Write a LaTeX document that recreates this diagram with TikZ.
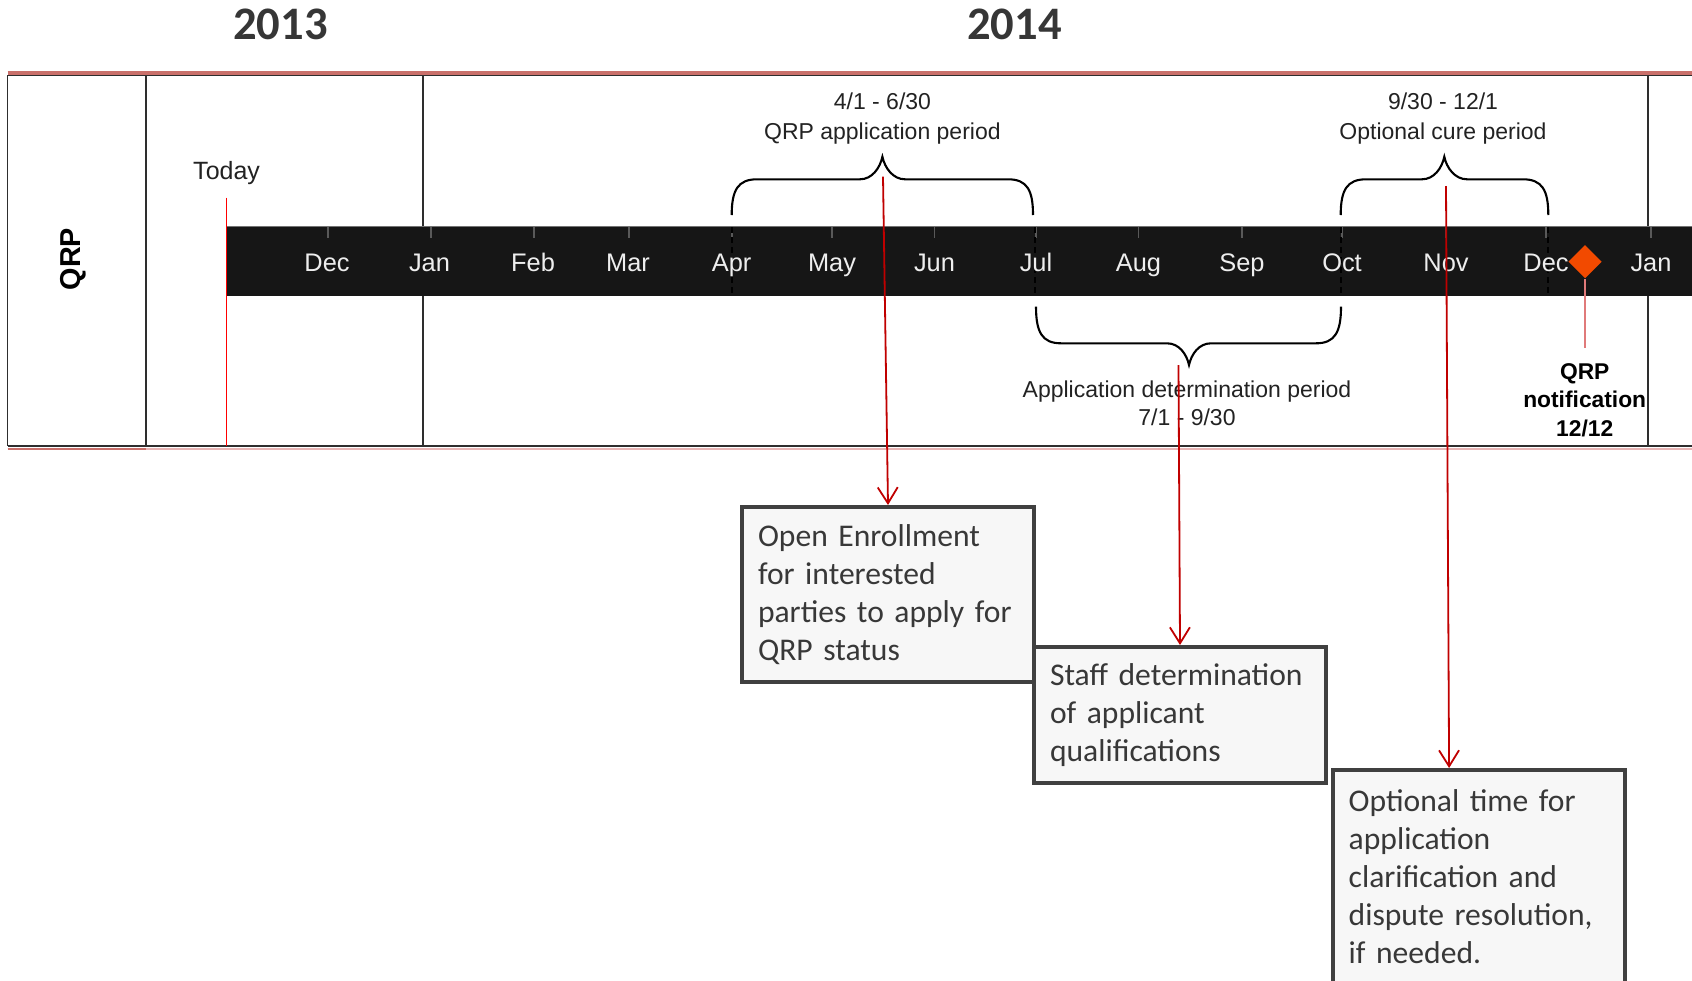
\documentclass[tikz,border=0pt]{standalone}
\usepackage{fontspec}
\setmainfont{Liberation Sans}
\newfontfamily\calibri{Carlito}
\usetikzlibrary{shapes.geometric,arrows.meta}
\definecolor{barblack}{HTML}{161616}
\definecolor{monthgray}{HTML}{EEEEEE}
\definecolor{labgray}{HTML}{222222}
\definecolor{yeargray}{HTML}{363636}
\definecolor{topred}{HTML}{C9706B}
\definecolor{paleRed}{HTML}{E8B4B4}
\definecolor{arrowred}{HTML}{C00000}
\definecolor{todayred}{HTML}{FF0000}
\definecolor{diaorange}{HTML}{F24A00}
\definecolor{stemred}{HTML}{E07A7A}
\definecolor{boxfill}{HTML}{F7F7F7}
\definecolor{boxline}{HTML}{404040}
\definecolor{boxtext}{HTML}{383838}
\definecolor{gridline}{HTML}{2E2E2E}
\tikzset{
  yearlab/.style={font=\calibri\bfseries\fontsize{23.3}{28}\selectfont, text=yeargray, inner sep=0},
  month/.style={font=\fontsize{12.7}{15}\selectfont, text=monthgray, inner sep=0, anchor=base},
  blabel/.style={font=\fontsize{11.5}{15}\selectfont, text=labgray, align=center, inner sep=0},
  bracepath/.style={draw=black, line width=1.05pt},
  grid/.style={draw=gridline, line width=0.8pt},
  tick/.style={draw=black!65, line width=0.8pt},
  monthdash/.style={draw=black, line width=0.8pt, dash pattern=on 3pt off 2pt},
  infobox/.style={draw=boxline, line width=2pt, fill=boxfill, text=boxtext,
    font=\calibri\fontsize{15.8}{19}\selectfont, align=left, text width=130pt,
    inner xsep=8pt, inner ysep=0pt, anchor=north west},
  redarrow/.style={draw=arrowred, line width=0.9pt, -{Straight Barb[length=8pt,width=10pt,line width=0.9pt]}}
}
\begin{document}
\begin{tikzpicture}[x=0.5pt,y=-0.5pt]
\useasboundingbox (0,0) rectangle (1692,980);

% years
\node[yearlab] (y2013) at (280.6,24) {2013};
\node[yearlab] (y2014) at (1014.4,24) {2014};

% table frame
\draw[grid] (7.6,75.5) -- (1692,75.5);
\draw[draw=topred, line width=2pt] (7.6,72.5) -- (1692,72.5);
\draw[draw=paleRed, line width=1pt] (7.6,448.5) -- (1692,448.5);
\draw[draw=topred, line width=1pt] (7.6,448.5) -- (146,448.5);
\draw[grid] (7.6,446) -- (1692,446);
\draw[grid] (7.6,75) -- (7.6,446);
\draw[grid] (146,75) -- (146,446);
\draw[draw=gridline, line width=0.6pt] (423,75) -- (423,446);
\draw[draw=gridline, line width=0.8pt] (1647.8,75) -- (1647.8,446);

\node[font=\bfseries\fontsize{14.4}{17}\selectfont, rotate=90, inner sep=0] (qrp) at (73.4,259) {QRP};

% black bar
\fill[barblack] (226.6,226) rectangle (1692,296);
\draw[draw=black!55, line width=0.3pt] (226.6,226) -- (1692,226);

% ticks
\foreach \x in {328,431,534,629,732,832,934.5,1036,1138.5,1242,1342,1446,1546,1651}
  \draw[tick] (\x,227) -- (\x,238);
% dashed period markers
\foreach \x in {731.7,1035,1341,1548}
  \draw[monthdash] (\x,227) -- (\x,296);

% month labels
\node[month] (m1) at (327,271) {Dec};
\node[month] (m2) at (429.5,271) {Jan};
\node[month] (m3) at (533,271) {Feb};
\node[month] (m4) at (628,271) {Mar};
\node[month] (m5) at (731.6,271) {Apr};
\node[month] (m6) at (832,271) {May};
\node[month] (m7) at (934.5,271) {Jun};
\node[month] (m8) at (1036,271) {Jul};
\node[month] (m9) at (1138.5,271) {Aug};
\node[month] (m10) at (1242,271) {Sep};
\node[month] (m11) at (1342,271) {Oct};
\node[month] (m12) at (1446,271) {Nov};
\node[month] (m13) at (1546,271) {Dec};
\node[month] (m14) at (1651,271) {Jan};

% today
\node[font=\fontsize{12.5}{15}\selectfont, text=labgray, inner sep=0] (today) at (226.6,173) {Today};
\coordinate (todaytop) at (226.6,197.5);
\coordinate (todaybot) at (226.6,446);
\draw[draw=todayred, line width=0.7pt] (todaytop) -- (todaybot);

% braces
\path[bracepath] (731.7,215) .. controls (731.7,190) and (738,179.3) .. (757,179.3) -- (860,179.3)
  .. controls (872,179.3) and (880,168) .. (882.4,156.7)
  .. controls (884.8,168) and (893,179.3) .. (905,179.3) -- (1008,179.3)
  .. controls (1027,179.3) and (1033,190) .. (1033,215);
\path[bracepath] (1340.7,215) .. controls (1340.7,190) and (1347,179.3) .. (1366,179.3) -- (1422,179.3)
  .. controls (1434,179.3) and (1442,168) .. (1444.3,156.7)
  .. controls (1446.6,168) and (1455,179.3) .. (1467,179.3) -- (1523,179.3)
  .. controls (1542,179.3) and (1548.3,190) .. (1548.3,215);
\path[bracepath] (1036,306.7) .. controls (1036,332) and (1042,343.3) .. (1061,343.3) -- (1167,343.3)
  .. controls (1179,343.3) and (1186.6,354) .. (1189,365)
  .. controls (1191.4,354) and (1199,343.3) .. (1211,343.3) -- (1316,343.3)
  .. controls (1335,343.3) and (1341,332) .. (1341,306.7);

% brace labels
\node[blabel] (lab1) at (882.4,118.7) {4/1 - 6/30\\QRP application period};
\node[blabel] (lab3) at (1443,118.7) {9/30 - 12/1\\Optional cure period};
\node[blabel, font=\fontsize{11.5}{14.2}\selectfont] (lab2) at (1187,403) {Application determination period\\7/1 - 9/30};

% notification diamond
\node[diamond, fill=diaorange, minimum width=16.7pt, minimum height=16.7pt, inner sep=0] (dia) at (1585,261.7) {};
\coordinate (stemend) at (1585,348);
\draw[draw=stemred, line width=1pt] (dia.south) -- (stemend);
\node[font=\bfseries\fontsize{11.4}{14.2}\selectfont, align=center, inner sep=0] (notif) at (1584.7,400) {QRP\\notification\\12/12};

% boxes
\node[infobox, minimum height=87.5pt] (box1) at (740,505)
  {Open Enrollment\\for interested\\parties to apply for\\QRP status};
\node[infobox, minimum height=68pt] (box2) at (1032,645)
  {Staff determination\\of applicant\\qualifications};
\node[infobox, minimum height=107pt] (box3) at (1330.7,768)
  {Optional time for\\application\\clarification and\\dispute resolution,\\if needed.};

% arrows
\coordinate (a1) at (883,176.7);
\coordinate (a2) at (1178.5,365);
\coordinate (a3) at (1446,186);
\draw[redarrow] (a1) -- (box1.north);
\draw[redarrow] (a2) -- (box2.north);
\draw[redarrow] (a3) -- ([xshift=59.2pt]box3.north west);
\end{tikzpicture}
\end{document}
